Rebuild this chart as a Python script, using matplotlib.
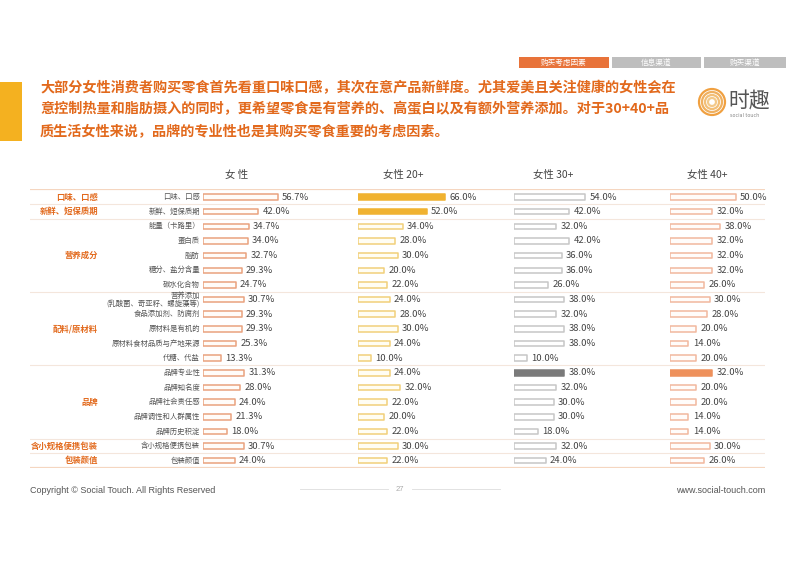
import matplotlib
matplotlib.use('Agg')
import matplotlib.pyplot as plt
from matplotlib.patches import Rectangle, Circle

plt.rcParams['font.family'] = ['Noto Sans CJK SC', 'DejaVu Sans']

# ---- data ----
items = ['口味、口感', '新鲜、短保质期', '能量（卡路里）', '蛋白质', '脂肪',
         '糖分、盐分含量', '碳水化合物', '营养添加\n(乳酸菌、奇亚籽、螺旋藻等)',
         '食品添加剂、防腐剂', '原材料是有机的', '原材料食材品质与产地来源',
         '代糖、代盐', '品牌专业性', '品牌知名度', '品牌社会责任感',
         '品牌调性和人群属性', '品牌历史积淀', '含小规格便携包装', '包装颜值']

female = [56.7, 42.0, 34.7, 34.0, 32.7, 29.3, 24.7, 30.7, 29.3, 29.3, 25.3,
          13.3, 31.3, 28.0, 24.0, 21.3, 18.0, 30.7, 24.0]
female20 = [66.0, 52.0, 34.0, 28.0, 30.0, 20.0, 22.0, 24.0, 28.0, 30.0, 24.0,
            10.0, 24.0, 32.0, 22.0, 20.0, 22.0, 30.0, 22.0]
female30 = [54.0, 42.0, 32.0, 42.0, 36.0, 36.0, 26.0, 38.0, 32.0, 38.0, 38.0,
            10.0, 38.0, 32.0, 30.0, 30.0, 18.0, 32.0, 24.0]
female40 = [50.0, 32.0, 38.0, 32.0, 32.0, 32.0, 26.0, 30.0, 28.0, 20.0, 14.0,
            20.0, 32.0, 20.0, 20.0, 14.0, 14.0, 30.0, 26.0]

col_titles = ['女 性', '女性 20+', '女性 30+', '女性 40+']
series = [female, female20, female30, female40]
highlight = [[], [0, 1], [12], [12]]   # filled bars per column

groups = ['口味、口感', '新鲜、短保质期', '营养成分', '配料/原材料', '品牌',
          '含小规格便携包装', '包装颜值']
group_rows = [0, 1, 4, 9, 14, 17, 18]
separators = [0.5, 1.5, 6.5, 11.5, 16.5, 17.5]

title_lines = ['大部分女性消费者购买零食首先看重口味口感，其次在意产品新鲜度。尤其爱美且关注健康的女性会在',
               '意控制热量和脂肪摄入的同时，更希望零食是有营养的、高蛋白以及有额外营养添加。对于30+40+品',
               '质生活女性来说，品牌的专业性也是其购买零食重要的考虑因素。']
tabs = ['购买考虑因素', '信息渠道', '购买渠道']

# ---- styles ----
ORANGE = '#E2691C'
col_start = [203, 358, 514, 670]
col_fill = ['#EBA27C', '#F0B230', '#7A7A7A', '#EE915C']
col_edge = ['#E9A27E', '#F1D07A', '#C6C6C6', '#F1B89E']
col_face = ['#FFFCF9', '#FFFDF3', '#FFFFFF', '#FFFCFA']
W, H = 800, 569
TOP, BOT = 189, 468
PX_PER_PCT = 1.32


def px_axes(x0, y0, x1, y1):
    return fig.add_axes([x0 / W, 1 - y1 / H, (x1 - x0) / W, (y1 - y0) / H])


fig = plt.figure(figsize=(8, 5.69), dpi=100)
fig.patch.set_facecolor('white')

# background / decoration axes in pixel units
bg = fig.add_axes([0, 0, 1, 1])
bg.set_xlim(0, W)
bg.set_ylim(H, 0)
bg.axis('off')

# tabs
tab_x = [(519, 609, '#E8733A'), (612, 701, '#BEBEBE'), (704, 786, '#BEBEBE')]
for (x0, x1, c), t in zip(tab_x, tabs):
    bg.add_patch(Rectangle((x0, 57), x1 - x0, 11, color=c, lw=0))
    bg.text((x0 + x1) / 2, 62.5, t, color='white', fontsize=5.5, ha='center', va='center')

# left accent block
bg.add_patch(Rectangle((0, 82), 22, 59, color='#F4B120', lw=0))

# headline
for i, line in enumerate(title_lines):
    bg.text(40, 88 + i * 21.5, line, color=ORANGE, fontsize=10.2, fontweight='bold',
            ha='left', va='center')

# logo
for r, c in zip([13, 10, 7, 4], ['#F0A040', '#EFB060', '#F2BF78', '#F3C98A']):
    bg.add_patch(Circle((712, 102), r, fill=False, ec=c, lw=1.6))
bg.text(728, 101, '时趣', fontsize=15, color='#555555', ha='left', va='center')
bg.text(730, 115, 'social touch', fontsize=3.5, color='#888888', ha='left', va='center',
        family='DejaVu Sans')

# footer
bg.text(30, 490, 'Copyright © Social Touch. All Rights Reserved', fontsize=6.5,
        color='#555555', ha='left', va='center', family='Liberation Sans')
bg.text(400, 489, '27', fontsize=5.5, color='#AAAAAA', ha='center', va='center',
        family='Liberation Sans')
bg.plot([300, 388], [489, 489], color='#E2E2E2', lw=0.7)
bg.plot([412, 500], [489, 489], color='#E2E2E2', lw=0.7)
bg.text(765, 490, 'www.social-touch.com', fontsize=6.5, color='#555555',
        ha='right', va='center', family='Liberation Sans')

# table frame axes: x in pixels, y in rows
n = len(items)
ylim = (n - 0.5, -0.55)
tab = px_axes(30, TOP, 765, BOT)
tab.set_xlim(30, 765)
tab.set_ylim(*ylim)
tab.axis('off')
tab.axhline(ylim[1], color='#F5D6C0', lw=1.6)
tab.axhline(ylim[0], color='#F5D6C0', lw=1.6)
for s in separators:
    tab.axhline(s, color='#F4E6DC', lw=0.8)

for g, r in zip(groups, group_rows):
    tab.text(98, r, g, color=ORANGE, fontsize=6, fontweight='bold', ha='right', va='center')
for i, it in enumerate(items):
    tab.text(200, i, it, color='#555555', fontsize=5.3, ha='right', va='center',
             multialignment='right', linespacing=1.0)

title_x = [237, 403, 553, 707]
for t, x in zip(col_titles, title_x):
    bg.text(x, 175, t, fontsize=7.5, color='#444444', ha='center', va='center')

# bar columns
for k, vals in enumerate(series):
    ax = px_axes(col_start[k], TOP, col_start[k] + 80 * PX_PER_PCT, BOT)
    ax.set_xlim(0, 80)
    ax.set_ylim(*ylim)
    ax.axis('off')
    ax.patch.set_alpha(0)
    faces = [col_fill[k] if i in highlight[k] else col_face[k] for i in range(n)]
    edges = [col_fill[k] if i in highlight[k] else col_edge[k] for i in range(n)]
    ax.barh(range(n), vals, height=0.38, color=faces, edgecolor=edges, lw=1.1,
            capstyle='round', joinstyle='round')
    for i, v in enumerate(vals):
        ax.text(v + 3.2, i, f'{v:.1f}%', fontsize=6.8, color='#444444',
                ha='left', va='center')

fig.savefig('out.png', dpi=100)
plt.close()
